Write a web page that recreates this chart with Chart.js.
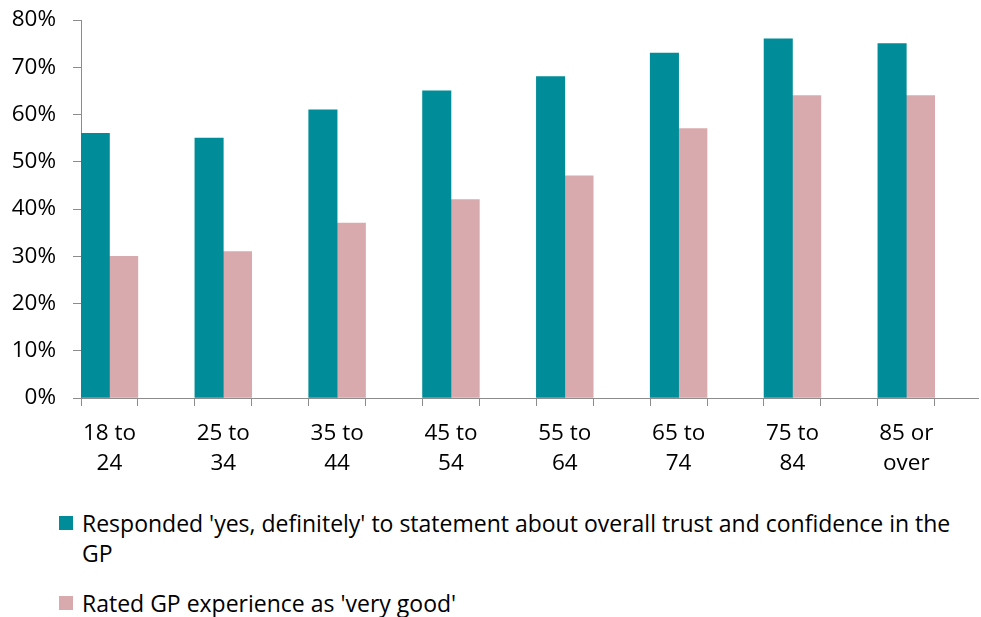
<!DOCTYPE html>
<html>
<head>
<meta charset="utf-8">
<script src="https://cdn.jsdelivr.net/npm/chart.js@4.4.0/dist/chart.umd.min.js"></script>
<style>
  html, body { margin: 0; padding: 0; background: #fff; }
  #wrap { position: relative; width: 981px; height: 617px; font-family: "Open Sans", sans-serif; color: #000; }
  #chart { position: absolute; left: 0; top: 0; }
  #legend { position: absolute; left: 59px; top: 508px; width: 915px; }
  .item { display: flex; align-items: flex-start; margin-bottom: 20px; font-size: 23px; line-height: 30px; }
  .box { width: 14px; height: 14px; flex: none; margin-top: 8px; margin-right: 9px; }
</style>
</head>
<body>
<div id="wrap">
  <canvas id="chart" width="981" height="490"></canvas>
  <div id="legend"></div>
</div>
<script>
// Age bands, drawn as two-line labels under each pair of bars
const ageGroups = [['18 to', '24'], ['25 to', '34'], ['35 to', '44'], ['45 to', '54'],
                   ['55 to', '64'], ['65 to', '74'], ['75 to', '84'], ['85 or', 'over']];
// % answering 'yes, definitely' on trust and confidence
const trustValues = [56, 55, 61, 65, 68, 73, 76, 75];
// % rating their GP experience as 'very good'
const ratingValues = [30, 31, 37, 42, 47, 57, 64, 64];
const seriesNames = ["Responded 'yes, definitely' to statement about overall trust and confidence in the GP",
                     "Rated GP experience as 'very good'"];
const yTickValues = [0, 10, 20, 30, 40, 50, 60, 70, 80];

const TEAL = '#008c99';
const PINK = '#d9aaad';
const AXIS = '#8c8c8c';
const font = { family: '"Open Sans", sans-serif', size: 22.5, lineHeight: 1.33 };

// bars sit on whole numbers; tick marks go at the outer edges of each pair
const edgeTicks = [];
ageGroups.forEach((g, i) => edgeTicks.push(i - 0.25, i, i + 0.25));

const chart = new Chart(document.getElementById('chart'), {
    type: 'bar',
    data: {
        datasets: [
            { label: seriesNames[0], data: trustValues.map((v, i) => ({ x: i, y: v })), backgroundColor: TEAL },
            { label: seriesNames[1], data: ratingValues.map((v, i) => ({ x: i, y: v })), backgroundColor: PINK }
        ]
    },
    options: {
        responsive: false,
        animation: false,
        layout: { padding: { top: 0, right: 3, left: 0, bottom: 0 } },
        barThickness: 28.4,
        plugins: { legend: { display: false }, tooltip: { enabled: false } },
        scales: {
            x: {
                type: 'linear',
                offset: false,
                min: -0.25,
                max: 7.63,
                afterBuildTicks: s => { s.ticks = edgeTicks.map(v => ({ value: v })); },
                afterFit: s => { s.height = 92; },
                border: { color: AXIS, width: 1 },
                grid: {
                    offset: false,
                    drawOnChartArea: false,
                    tickLength: 8,
                    color: ctx => (ctx.tick && Number.isInteger(ctx.tick.value)) ? 'rgba(0,0,0,0)' : AXIS
                },
                ticks: {
                    autoSkip: false,
                    maxRotation: 0,
                    padding: 13,
                    color: '#000',
                    font: font,
                    callback: v => Number.isInteger(v) ? ageGroups[v] : ''
                }
            },
            y: {
                min: 0,
                max: 80,
                afterBuildTicks: s => { s.ticks = yTickValues.map(v => ({ value: v })); },
                afterFit: s => { s.width = 81; s.paddingTop = 20; },
                border: { color: AXIS, width: 1 },
                grid: { drawOnChartArea: false, tickLength: 8, color: AXIS },
                ticks: {
                    padding: 17,
                    color: '#000',
                    font: font,
                    callback: v => v + '%'
                }
            }
        }
    }
});

// legend under the plot, built from the datasets
const legend = document.getElementById('legend');
chart.data.datasets.forEach(ds => {
    const item = document.createElement('div');
    item.className = 'item';
    item.innerHTML = '<span class="box" style="background:' + ds.backgroundColor + '"></span><span></span>';
    item.lastChild.textContent = ds.label;
    legend.appendChild(item);
});
</script>
</body>
</html>
